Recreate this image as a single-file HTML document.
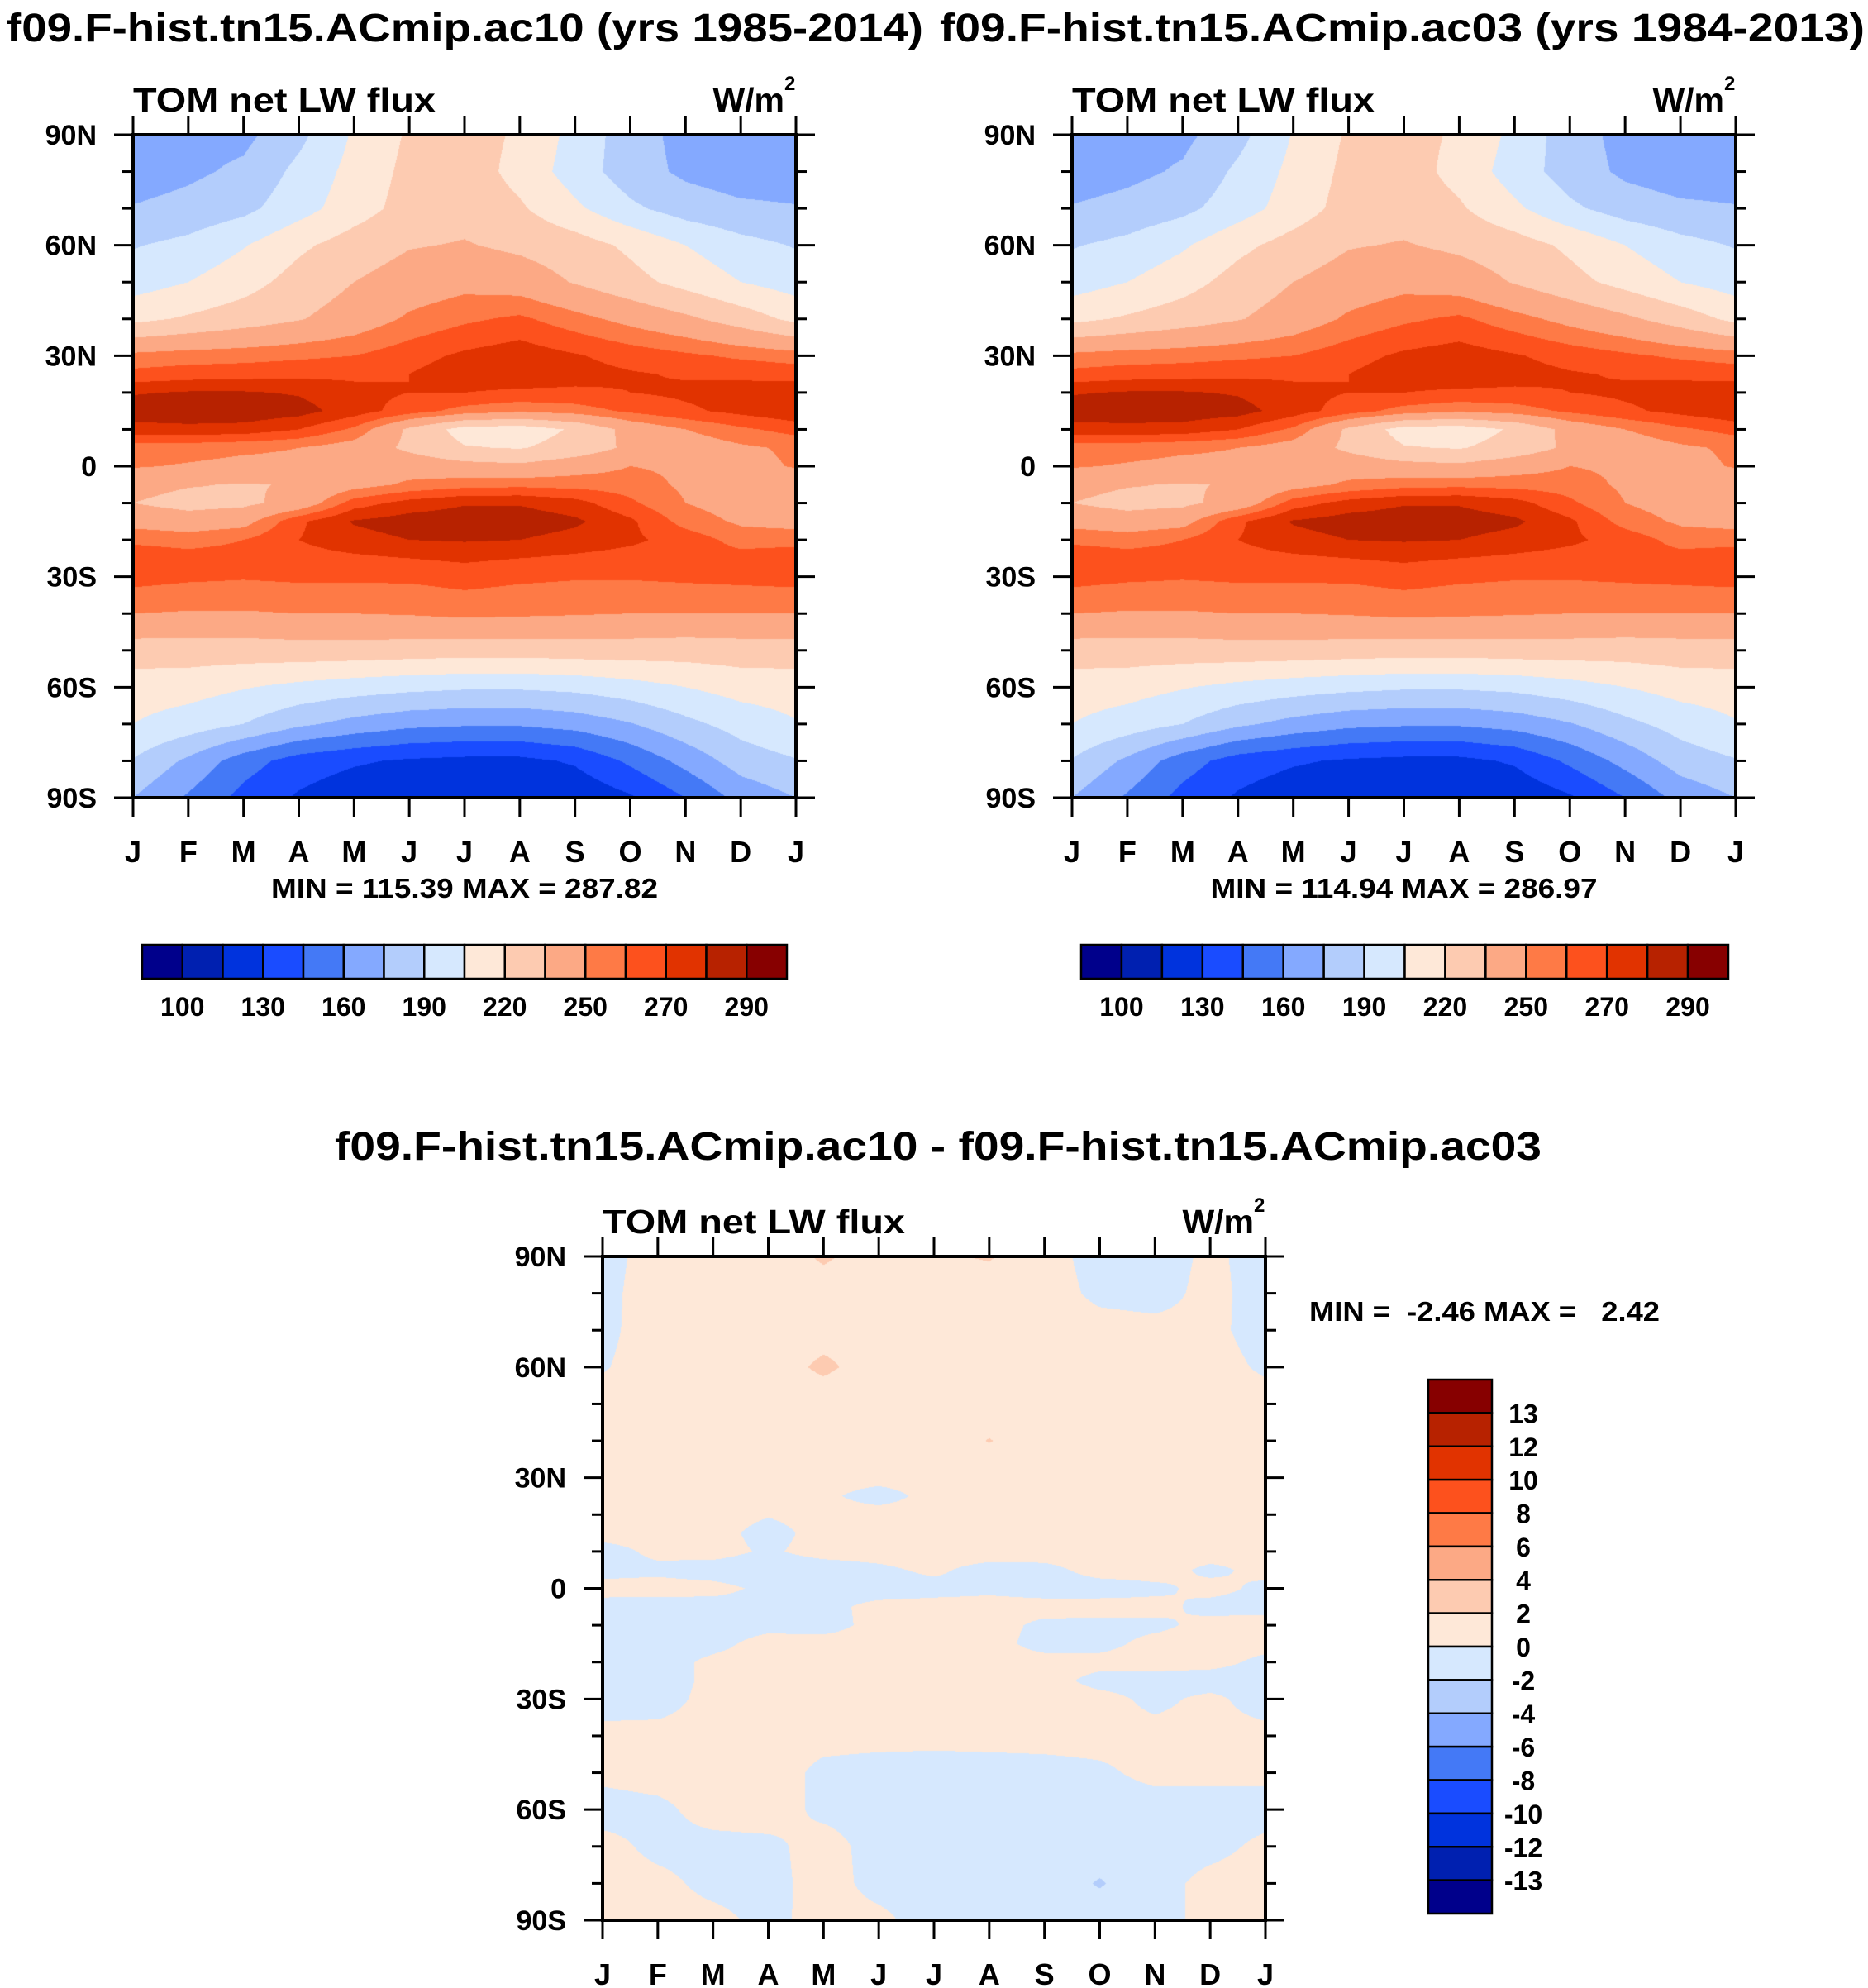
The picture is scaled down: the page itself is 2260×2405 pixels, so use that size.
<!DOCTYPE html>
<html>
<head>
<meta charset="utf-8">
<style>
  html,body{margin:0;padding:0;background:#fff;}
  body{width:2260px;height:2405px;position:relative;overflow:hidden;}
  canvas{position:absolute;}
  svg{position:absolute;left:0;top:0;}
  text{font-family:"Liberation Sans",Arial,sans-serif;font-weight:bold;fill:#000;}
</style>
</head>
<body>
<canvas id="c1"></canvas>
<canvas id="c2"></canvas>
<canvas id="c3"></canvas>
<svg id="ov" width="2260" height="2405" viewBox="0 0 2260 2405"></svg>
<script>
// ---- data ----
const MONTHS = ['J','F','M','A','M','J','J','A','S','O','N','D','J'];
const LATS = [90,80,70,60,50,40,30,25,20,15,10,5,0,-5,-10,-15,-20,-25,-30,-40,-50,-60,-70,-80,-90];
const LAT_TICKS = [90,60,30,0,-30,-60,-90];
const LAT_TICK_LABELS = ['90N','60N','30N','0','30S','60S','90S'];
const LEVELS = [100,115,130,145,160,175,190,205,220,235,250,260,270,280,290];
const LEVEL_LABELS = [100,130,160,190,220,250,270,290];
const DIFF_LEVELS = [-13,-12,-10,-8,-6,-4,-2,0,2,4,6,8,10,12,13];
const COLORS = ['#00008b','#0020b0','#0033dd','#1a4cff','#4479f6','#84a9ff','#b3cdfc','#d6e8fe','#fee8d8','#fdcbb1','#fca985','#fe7a46','#fd511d','#e13300','#b72200','#870000'];

const FIELD_AC10 = [
 [165,170,171,186,207,222,226,218,200,182,170,166,165],
 [167,172,178,194,210,224,228,215,198,182,172,167,167],
 [176,180,186,199,213,226,230,222,208,193,183,178,176],
 [189,194,204,217,227,234,236,232,227,217,205,195,189],
 [198,205,214,226,235,242,246,243,234,225,215,205,198],
 [216,222,228,234,242,252,258,262,254,246,238,228,216],
 [253,255,256,258,260,266,272,276,271,266,262,258,255],
 [263,265,266,267,268,270,276,277,274,271,269,268,266],
 [279,281,281,279,273,270,270,268,268,270,272,274,276],
 [286,287,287,284,275,265,256,252,255,262,268,273,278],
 [276,277,276,270,258,232,214,212,222,240,250,258,264],
 [255,254,252,250,244,232,221,219,226,238,242,248,252],
 [251,249,247,247,246,244,240,238,244,250,248,246,251],
 [240,236,234,236,245,252,256,257,256,255,248,243,241],
 [235,230,232,240,265,274,279,279,274,262,250,244,240],
 [245,242,245,268,281,285,286,286,282,272,256,248,245],
 [258,256,260,270,276,280,281,280,276,272,266,256,257],
 [266,264,264,266,268,270,272,270,268,266,265,264,265],
 [264,262,261,262,262,262,264,262,261,261,262,263,264],
 [250,249,249,250,250,251,253,252,251,250,250,250,250],
 [228,228,228,229,229,228,227,227,228,228,227,228,228],
 [212,211,206,201,197,194,192,192,194,199,205,211,212],
 [205,198,190,178,170,164,162,162,166,174,186,196,204],
 [189,172,152,138,132,128,126,126,132,148,165,182,189],
 [175,158,140,128,120,117,116,116,118,128,145,165,175]
];
const FIELD_AC03 = [
 [165,169,171,185,206,222,225,218,201,182,170,166,165],
 [167,171,177,193,209,224,227,215,198,183,172,167,167],
 [176,180,186,198,212,226,229,222,208,193,183,178,176],
 [189,194,203,216,226,234,236,232,227,217,205,195,189],
 [198,205,214,226,235,242,246,243,234,225,215,205,198],
 [216,222,228,234,242,252,258,262,254,246,238,228,216],
 [253,255,256,258,260,266,272,275,271,266,262,258,255],
 [263,265,266,267,268,270,276,277,274,271,269,268,266],
 [279,281,281,279,273,270,270,268,268,270,272,274,276],
 [286,286,286,284,275,265,256,252,255,262,268,273,278],
 [276,277,276,270,258,232,214,212,222,240,250,258,264],
 [255,254,252,250,244,232,221,219,226,238,242,248,252],
 [251,249,247,247,246,244,240,238,244,250,248,246,251],
 [240,236,234,236,245,252,256,257,256,255,248,243,241],
 [235,230,232,240,265,274,279,279,274,262,250,244,240],
 [245,242,245,268,281,285,286,285,282,272,256,248,245],
 [258,256,260,270,276,280,281,280,276,272,266,256,257],
 [266,264,264,266,268,270,272,270,268,266,265,264,265],
 [264,262,261,262,262,262,264,262,261,261,262,263,264],
 [250,249,249,250,250,251,253,252,251,250,250,250,250],
 [228,228,228,229,229,228,227,227,228,228,227,228,228],
 [212,211,206,201,197,194,192,192,194,199,205,211,212],
 [205,198,190,178,170,164,162,162,166,174,186,196,204],
 [189,172,152,138,132,128,126,126,132,148,165,182,189],
 [175,158,140,128,120,117,115,115,118,128,145,165,175]
];
const FIELD_DIFF = [
 [-0.5,0.6,0.8,0.8,2.3,1.0,1.7,2.2,0.5,-0.5,-0.7,0.3,-0.6],
 [-0.4,0.7,0.7,0.8,1.0,1.0,0.8,0.7,0.6,-0.3,-0.5,0.4,-0.6],
 [-0.3,0.6,0.8,0.9,1.2,1.8,0.9,0.7,0.6,0.5,0.4,0.3,-0.5],
 [-0.1,0.6,0.9,1.0,2.4,1.0,0.9,0.8,0.6,0.6,0.5,0.5,-0.2],
 [0.5,0.6,0.7,0.7,0.8,0.8,0.7,0.7,0.6,0.6,0.6,0.6,0.5],
 [0.6,0.6,0.6,0.6,0.6,0.6,0.6,2.1,0.6,0.6,0.6,0.6,0.6],
 [0.5,0.5,0.5,0.4,0.5,0.5,0.5,0.5,0.5,0.5,0.5,0.5,0.5],
 [0.6,0.6,0.6,0.6,0.3,-0.6,0.5,0.6,0.6,0.6,0.6,0.6,0.6],
 [0.6,0.6,0.6,0.1,0.5,0.6,0.6,0.6,0.6,0.6,0.6,0.6,0.6],
 [0.5,0.5,0.5,-0.5,0.5,0.6,0.6,0.6,0.6,0.6,0.6,0.6,0.5],
 [-0.5,0.3,0.5,-0.2,0.5,0.6,0.7,0.8,0.8,0.8,0.8,0.6,0.3],
 [-0.4,-0.3,-0.6,-0.8,-0.7,-0.3,0.3,-0.6,-0.5,0.6,0.6,-0.3,0.4],
 [0.4,0.5,0.4,-0.3,-0.6,-0.7,-0.5,-0.3,-0.6,-0.7,-0.3,0.4,-0.3],
 [-0.4,-0.6,-0.5,-0.4,-0.4,0.4,0.5,0.5,0.5,0.6,0.4,-0.4,-0.4],
 [-0.6,-0.7,-0.6,-0.4,-0.6,0.5,0.6,0.5,-0.3,-0.4,-0.3,0.4,0.5],
 [-0.7,-0.7,-0.4,0.5,0.6,0.6,0.6,0.5,-0.5,-0.4,0.4,0.5,0.4],
 [-0.7,-0.6,0.3,0.6,0.6,0.6,0.6,0.5,0.5,0.4,0.5,0.4,-0.3],
 [-0.7,-0.6,0.3,0.6,0.6,0.6,0.6,0.5,0.5,-0.4,-0.5,-0.6,-0.5],
 [-0.6,-0.5,0.4,0.5,0.5,0.5,0.5,0.5,0.5,0.4,-0.3,0.3,-0.6],
 [0.4,0.4,0.4,0.4,0.4,0.4,0.4,0.4,0.4,0.4,0.4,0.4,0.4],
 [0.3,0.5,0.5,0.6,-0.3,-0.5,-0.6,-0.5,-0.4,-0.2,0.3,0.3,0.3],
 [-0.5,-0.3,0.5,0.6,-0.3,-0.5,-0.7,-0.7,-0.6,-0.5,-0.5,-0.5,-0.5],
 [0.4,-0.3,-0.4,-0.3,0.5,-0.5,-0.6,-0.6,-0.6,-0.8,-0.6,-0.4,0.3],
 [0.5,0.3,-0.3,-0.4,0.5,-0.4,-0.6,-0.6,-0.7,-2.2,-0.5,0.4,0.6],
 [0.5,0.4,0.3,-0.3,0.4,0.3,-0.6,-0.5,-0.6,-0.7,-0.5,0.4,0.5]
];

// ---- geometry ----
const P1 = {x:161,y:163,w:802,h:802};
const P2 = {x:1297,y:163,w:803,h:802};
const P3 = {x:729,y:1520,w:802,h:803};
const NS = 'http://www.w3.org/2000/svg';
const ov = document.getElementById('ov');

function hexRgb(h){return [parseInt(h.substr(1,2),16),parseInt(h.substr(3,2),16),parseInt(h.substr(5,2),16)];}
const RGB = COLORS.map(hexRgb);

function sample(field, m, lat){
  let i = Math.min(Math.floor(m), MONTHS.length-2); let fm = m - i;
  let j = 0; while (j < LATS.length-2 && lat < LATS[j+1]) j++;
  let fl = (LATS[j]-lat)/(LATS[j]-LATS[j+1]);
  const a = field[j][i]*(1-fm)+field[j][i+1]*fm;
  const b = field[j+1][i]*(1-fm)+field[j+1][i+1]*fm;
  return a*(1-fl)+b*fl;
}
function drawField(id, P, field, levels){
  const cv = document.getElementById(id);
  cv.width = P.w; cv.height = P.h;
  cv.style.left = P.x+'px'; cv.style.top = P.y+'px';
  const ctx = cv.getContext('2d');
  const img = ctx.createImageData(P.w, P.h);
  for (let py=0; py<P.h; py++){
    const lat = 90 - (py+0.5)/P.h*180;
    for (let px=0; px<P.w; px++){
      const m = (px+0.5)/P.w*12;
      const v = sample(field, m, lat);
      let k=0; while (k<levels.length && v>=levels[k]) k++;
      const c = RGB[k]; const o=(py*P.w+px)*4;
      img.data[o]=c[0]; img.data[o+1]=c[1]; img.data[o+2]=c[2]; img.data[o+3]=255;
    }
  }
  ctx.putImageData(img,0,0);
}
function el(tag, attrs, parent){
  const e = document.createElementNS(NS, tag);
  for (const k in attrs) e.setAttribute(k, attrs[k]);
  (parent||ov).appendChild(e); return e;
}
function txt(s, attrs){ const t = el('text', attrs); t.textContent = s; return t; }

function axes(P, prefix){
  const g = el('g', {});
  
  
  const yOf = lat => P.y + (90-lat)/180*P.h;
  const xOf = m => P.x + m/12*P.w;
  for (let lat=-90; lat<=90; lat+=10){
    const major = LAT_TICKS.indexOf(lat) >= 0; const L = major?23:13; const y=yOf(lat);
    const t1 = el('line', {x1:P.x-L, x2:P.x, y1:y, y2:y, stroke:'#000','stroke-width':3}, g);
    
    
    const t2 = el('line', {x1:P.x+P.w, x2:P.x+P.w+L, y1:y, y2:y, stroke:'#000','stroke-width':3}, g);
    
    
  }
  for (let m=0; m<MONTHS.length; m++){
    const x = xOf(m);
    const a = el('line', {x1:x, x2:x, y1:P.y-23, y2:P.y, stroke:'#000','stroke-width':3}, g);
    
    
    const b = el('line', {x1:x, x2:x, y1:P.y+P.h, y2:P.y+P.h+23, stroke:'#000','stroke-width':3}, g);
    
    
    const t = txt(MONTHS[m], {x:x, y:P.y+P.h+78, 'text-anchor':'middle','font-size':36});
    
    
  }
  LAT_TICKS.forEach((lat,i)=>{
    const t = txt(LAT_TICK_LABELS[i], {x:P.x-44, y:yOf(lat)+12, 'text-anchor':'end','font-size':34});
    
    
  });
  const r = el('rect', {x:P.x, y:P.y, width:P.w, height:P.h, fill:'none', stroke:'#000','stroke-width':4}, g);
  
  
  const l = txt('TOM net LW flux', {x:P.x, y:P.y-28, 'font-size':41, textLength:366, lengthAdjust:'spacingAndGlyphs'});
  
  
  const u = txt('W/m', {x:P.x+P.w-14, y:P.y-28, 'text-anchor':'end','font-size':41});
  
  
  const s = txt('2', {x:P.x+P.w-14, y:P.y-54, 'font-size':24});
  
  
}

function hColorbar(x0, x1, y0, y1, prefix){
  const n = COLORS.length; const bw = (x1-x0)/n;
  for (let k=0;k<n;k++){
    const r = el('rect', {x:x0+k*bw, y:y0, width:bw, height:y1-y0, fill:COLORS[k], stroke:'#000','stroke-width':2.5});
    
    
  }
  LEVEL_LABELS.forEach(v=>{
    const b = LEVELS.indexOf(v)+1;
    const t = txt(String(v), {x:x0+b*bw, y:y1+45, 'text-anchor':'middle','font-size':32});
    
    
  });
}

function vColorbar(x0, x1, y0, y1){
  const n = COLORS.length; const bh = (y1-y0)/n;
  for (let k=0;k<n;k++){
    const r = el('rect', {x:x0, y:y0+k*bh, width:x1-x0, height:bh, fill:COLORS[n-1-k], stroke:'#000','stroke-width':2.5});
    
    
  }
  for (let b=1;b<n;b++){
    const v = DIFF_LEVELS[DIFF_LEVELS.length-b];
    const t = txt(String(v), {x:1843, y:y0+b*bh+12, 'text-anchor':'middle','font-size':32});
    
    
  }
}

drawField('c1', P1, FIELD_AC10, LEVELS);
drawField('c2', P2, FIELD_AC03, LEVELS);
drawField('c3', P3, FIELD_DIFF, DIFF_LEVELS);
axes(P1, 'ac10');
axes(P2, 'ac03');
axes(P3, 'diff');
hColorbar(172, 952, 1143, 1184, 'ac10');
hColorbar(1308, 2091, 1143, 1184, 'ac03');
vColorbar(1728, 1805, 1669, 2315);

const t1 = txt('f09.F-hist.tn15.ACmip.ac10 (yrs 1985-2014)', {x:8, y:50, 'font-size':48, textLength:1109, lengthAdjust:'spacingAndGlyphs'});


const t2 = txt('f09.F-hist.tn15.ACmip.ac03 (yrs 1984-2013)', {x:1137, y:50, 'font-size':48, textLength:1119, lengthAdjust:'spacingAndGlyphs'});


const t3 = txt('f09.F-hist.tn15.ACmip.ac10 - f09.F-hist.tn15.ACmip.ac03', {x:405, y:1403, 'font-size':48, textLength:1460, lengthAdjust:'spacingAndGlyphs'});


const m1 = txt('MIN = 115.39 MAX = 287.82', {x:P1.x+P1.w/2, y:1086, 'text-anchor':'middle','font-size':33, textLength:468, lengthAdjust:'spacingAndGlyphs'});


const m2 = txt('MIN = 114.94 MAX = 286.97', {x:P2.x+P2.w/2, y:1086, 'text-anchor':'middle','font-size':33, textLength:468, lengthAdjust:'spacingAndGlyphs'});


const m3 = txt('MIN =  -2.46 MAX =   2.42', {x:1584, y:1598, 'font-size':33, textLength:424, lengthAdjust:'spacingAndGlyphs'});


m3.setAttribute('xml:space', 'preserve');
m3.style.whiteSpace = 'pre';
</script>
</body>
</html>
